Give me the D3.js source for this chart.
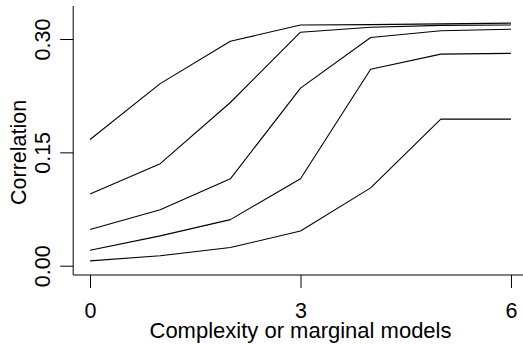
<!DOCTYPE html>
<html>
<head>
<meta charset="utf-8">
<script src="https://cdn.jsdelivr.net/npm/d3@7"></script>
<style>
  body { margin: 0; background: #fff; }
  svg text { font-family: "Liberation Sans", Arial, sans-serif; fill: #000; }
</style>
</head>
<body>
<div id="chart"></div>
<script>
// complexity levels on the x axis
let complexity = [0, 1, 2, 3, 4, 5, 6];

// one correlation curve per model (top to bottom)
let curve1 = [0.167, 0.241, 0.297, 0.3185, 0.319, 0.320, 0.321];
let curve2 = [0.095, 0.135, 0.216, 0.309, 0.3155, 0.318, 0.3185];
let curve3 = [0.048, 0.074, 0.115, 0.235, 0.302, 0.311, 0.313];
let curve4 = [0.0205, 0.0395, 0.061, 0.115, 0.260, 0.280, 0.281];
let curve5 = [0.0064, 0.0132, 0.024, 0.046, 0.103, 0.194, 0.194];
let curves = [curve1, curve2, curve3, curve4, curve5];

let xTicks = [0, 3, 6];
let yTicks = [0.00, 0.15, 0.30];
let xTitle = "Complexity or marginal models";
let yTitle = "Correlation";

const width  = 523;
const height = 345;
const fontSize = 21.5;

// plot region in pixels (R style, 4% padding on each side)
const plot = { left: 73.2, right: 527.8, top: 6, bottom: 275 };

const x = d3.scaleLinear()
  .domain([-0.24, 6.24])
  .range([plot.left, plot.right]);

const y = d3.scaleLinear()
  .domain([-0.0123, 0.3437])
  .range([plot.bottom, plot.top]);

const svg = d3.select("#chart").append("svg")
  .attr("width", width)
  .attr("height", height);

// lines
const line = d3.line()
  .x((d, i) => x(complexity[i]))
  .y(d => y(d));

svg.append("g")
  .selectAll("path")
  .data(curves)
  .join("path")
    .attr("d", line)
    .attr("fill", "none")
    .attr("stroke", "#000")
    .attr("stroke-width", 1.1)
    .attr("stroke-linejoin", "round");

// L-shaped frame (bty = "l")
svg.append("path")
  .attr("d", `M${plot.left},${plot.top}V${plot.bottom}H${plot.right}`)
  .attr("fill", "none")
  .attr("stroke", "#000")
  .attr("stroke-width", 1);

// x axis ticks
const xAxis = d3.axisBottom(x)
  .tickValues(xTicks)
  .tickFormat(d3.format("d"))
  .tickSizeInner(13)
  .tickSizeOuter(0)
  .tickPadding(15);

const gx = svg.append("g")
  .attr("transform", `translate(0,${plot.bottom})`)
  .call(xAxis);
gx.select(".domain").remove();
gx.selectAll("text")
  .attr("font-size", fontSize)
  .attr("font-family", null);

// y axis ticks, labels rotated like R's default las = 0
const yAxis = d3.axisLeft(y)
  .tickValues(yTicks)
  .tickFormat(d3.format(".2f"))
  .tickSizeInner(13)
  .tickSizeOuter(0);

const gy = svg.append("g")
  .attr("transform", `translate(${plot.left},0)`)
  .call(yAxis);
gy.select(".domain").remove();
gy.selectAll("text")
  .attr("font-size", fontSize)
  .attr("font-family", null)
  .attr("x", null)
  .attr("dy", null)
  .attr("text-anchor", "middle")
  .attr("transform", "translate(-23,0) rotate(-90)");

// axis titles
svg.append("text")
  .attr("x", (x(0) + x(6)) / 2)
  .attr("y", 338)
  .attr("text-anchor", "middle")
  .attr("font-size", 22)
  .text(xTitle);

svg.append("text")
  .attr("transform", `translate(26,${(y(0) + y(0.3)) / 2}) rotate(-90)`)
  .attr("text-anchor", "middle")
  .attr("font-size", fontSize)
  .text(yTitle);
</script>
</body>
</html>
